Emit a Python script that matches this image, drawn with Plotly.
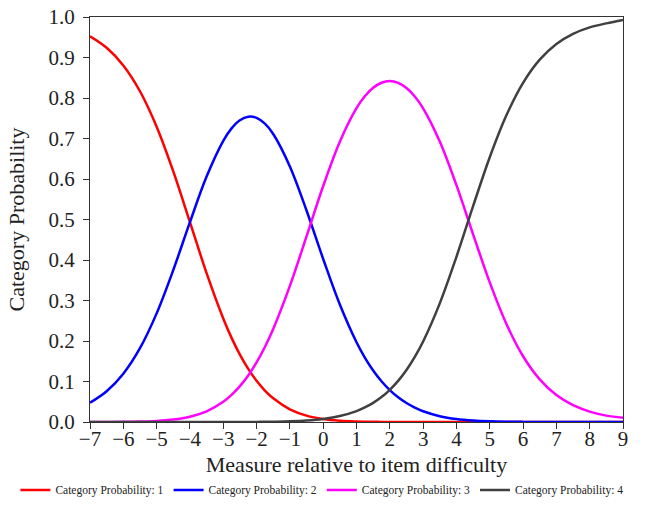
import plotly.graph_objects as go

measure = [-7, -6.5, -6, -5.5, -5, -4.5, -4, -3.5, -3, -2.75, -2.5, -2.25, -2, -1.75, -1.5, -1, -0.5,
           0, 0.5, 1, 1.25, 1.5, 1.75, 2, 2.25, 2.5, 2.75, 3, 3.5, 4, 4.5, 5, 5.5, 6, 6.5, 7, 7.5, 8, 8.5, 9]

cat1 = [0.9525, 0.924, 0.8804, 0.8167, 0.7291, 0.6187, 0.4935, 0.3675, 0.2555, 0.2077, 0.1663, 0.131,
        0.1016, 0.0776, 0.0584, 0.0314, 0.0158, 0.0074, 0.0032, 0.0013, 0.0008, 0.0005, 0.0003, 0.0002,
        0.0001, 0.0001, 0.0, 0.0, 0.0, 0.0, 0.0, 0.0, 0.0, 0.0, 0.0, 0.0, 0.0, 0.0, 0.0, 0.0]
cat2 = [0.0474, 0.0758, 0.1192, 0.1822, 0.2682, 0.3753, 0.4935, 0.606, 0.6944, 0.7251, 0.7451, 0.7538,
        0.751, 0.7366, 0.7112, 0.631, 0.5222, 0.4025, 0.29, 0.1969, 0.1591, 0.1272, 0.1005, 0.0787,
        0.061, 0.0468, 0.0355, 0.0266, 0.0144, 0.0074, 0.0036, 0.0016, 0.0007, 0.0003, 0.0001, 0.0,
        0.0, 0.0, 0.0, 0.0]
cat3 = [0.0001, 0.0002, 0.0004, 0.0011, 0.0026, 0.006, 0.0131, 0.0265, 0.0501, 0.0671, 0.0886, 0.115,
        0.1471, 0.1853, 0.2297, 0.336, 0.4585, 0.5827, 0.6922, 0.7749, 0.8042, 0.8251, 0.8376, 0.8417,
        0.8374, 0.8248, 0.8038, 0.7746, 0.6925, 0.5847, 0.4634, 0.3447, 0.2422, 0.1624, 0.1053, 0.0666,
        0.0415, 0.0256, 0.0157, 0.0104]
cat4 = [0.0, 0.0, 0.0, 0.0, 0.0, 0.0, 0.0, 0.0, 0.0, 0.0001, 0.0001, 0.0002,
        0.0003, 0.0004, 0.0007, 0.0016, 0.0036, 0.0075, 0.0146, 0.0269, 0.0359, 0.0473, 0.0616, 0.0795,
        0.1015, 0.1284, 0.1607, 0.1988, 0.293, 0.4079, 0.533, 0.6537, 0.7572, 0.8373, 0.8946, 0.9334,
        0.9585, 0.9744, 0.9843, 0.9926]

series = [
    ("Category Probability: 1", cat1, "#ff0000"),
    ("Category Probability: 2", cat2, "#0000ff"),
    ("Category Probability: 3", cat3, "#ff00ff"),
    ("Category Probability: 4", cat4, "#404040"),
]

FONT = "Liberation Serif"
TXT = "#222222"

fig = go.Figure()
for name, vals, col in series:
    fig.add_trace(go.Scatter(
        x=measure, y=vals, name=name, mode="lines",
        line=dict(color=col, width=2.5, shape="spline", smoothing=1.0),
    ))

axis_common = dict(
    showgrid=False, zeroline=False, showline=True, linecolor="#333333", linewidth=1.2,
    mirror=True, ticks="outside", ticklen=6, tickcolor="#333333", tickwidth=1.2,
    tickfont=dict(family=FONT, size=21, color=TXT), automargin=False,
)

fig.update_layout(
    width=649, height=515,
    margin=dict(l=90, r=26, t=17, b=92),
    paper_bgcolor="white", plot_bgcolor="white",
    font=dict(family=FONT, color=TXT),
    xaxis=dict(range=[-7, 9], dtick=1, tick0=-7, ticklabelstandoff=-8,
               title=dict(text="Measure relative to item difficulty",
                          font=dict(family=FONT, size=22, color=TXT), standoff=6),
               **axis_common),
    yaxis=dict(range=[0, 1], dtick=0.1, tick0=0, tickformat=".1f", ticklabelstandoff=4,
               title=dict(text="Category Probability",
                          font=dict(family=FONT, size=22, color=TXT), standoff=17),
               **axis_common),
    legend=dict(orientation="h", x=-0.14, xanchor="left", y=-0.165, yanchor="middle",
                font=dict(family=FONT, size=11.5, color=TXT),
                itemwidth=30, tracegroupgap=0),
    showlegend=True,
)

fig.write_html("out.html", post_script="document.body.style.margin='0';",
               config={"displayModeBar": False})
